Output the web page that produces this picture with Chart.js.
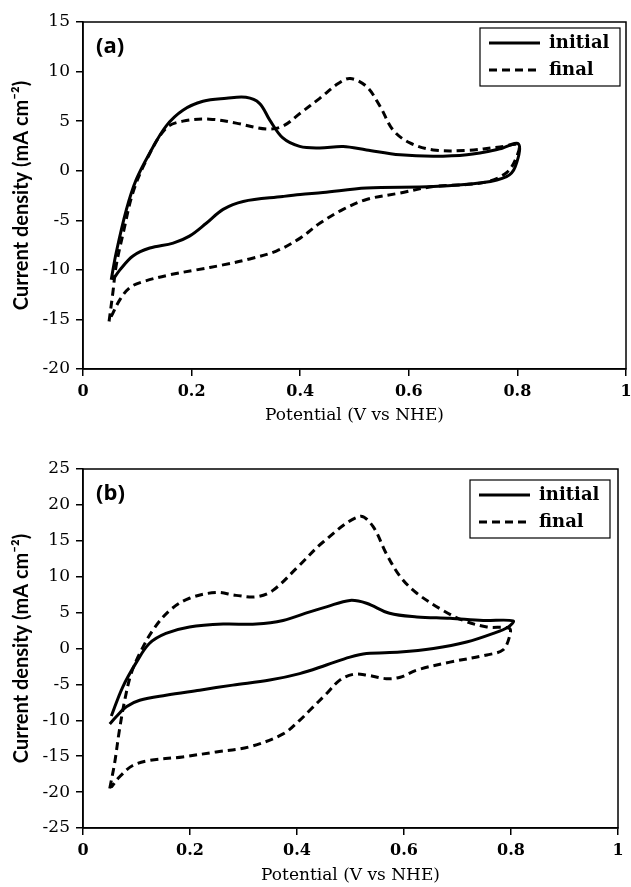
<!DOCTYPE html>
<html><head><meta charset="utf-8">
<script src="https://cdn.jsdelivr.net/npm/chart.js@4"></script>
<style>
body{margin:0;background:#fff;}
canvas{display:block;}
</style>
</head><body>
<canvas id="ca" width="631" height="443"></canvas>
<canvas id="cb" width="631" height="444"></canvas>
<script>
// ---- data ----
const seriesNames = ['initial', 'final'];
const panelLabels = ['(a)', '(b)'];
const xAxisTitle = 'Potential (V vs NHE)';
const yAxisTitle = 'Current density (mA cm\u207B\u00B2)';
const xTickLabels = ['0', '0.2', '0.4', '0.6', '0.8', '1'];

// Panel (a)
const aInitialV = [0.052,0.061,0.080,0.098,0.123,0.153,0.184,0.221,0.264,0.300,0.325,0.344,0.368,0.399,0.436,0.479,0.522,0.584,0.645,0.707,0.768,0.802,0.796,0.780,0.737,0.645,0.522,0.442,0.400,0.368,0.295,0.258,0.227,0.196,0.166,0.123,0.092,0.068,0.055];
const aInitialI = [-11.0,-8.3,-3.9,-0.9,1.8,4.5,6.1,7.0,7.3,7.4,6.8,5.1,3.3,2.45,2.3,2.45,2.1,1.6,1.45,1.6,2.2,2.7,0.4,-0.6,-1.2,-1.6,-1.75,-2.2,-2.4,-2.6,-3.1,-3.9,-5.3,-6.6,-7.3,-7.8,-8.6,-10.0,-11.0];
const aFinalV = [0.048,0.055,0.061,0.074,0.092,0.117,0.153,0.184,0.233,0.282,0.338,0.368,0.400,0.436,0.470,0.492,0.522,0.547,0.571,0.602,0.645,0.707,0.768,0.802,0.799,0.780,0.737,0.645,0.584,0.522,0.479,0.436,0.400,0.356,0.307,0.258,0.209,0.160,0.110,0.086,0.068,0.052,0.048];
const aFinalI = [-15.2,-12.3,-9.6,-6.3,-2.2,1.1,4.3,5.0,5.2,4.8,4.2,4.5,5.8,7.3,8.8,9.3,8.5,6.5,4.1,2.8,2.1,2.05,2.4,2.6,1.45,-0.2,-1.2,-1.6,-2.25,-2.9,-3.9,-5.3,-6.8,-8.1,-8.9,-9.5,-10.0,-10.5,-11.2,-11.8,-13.0,-14.7,-15.2];

// Panel (b)
const bInitialV = [0.053,0.074,0.100,0.124,0.155,0.199,0.262,0.324,0.374,0.424,0.455,0.499,0.530,0.573,0.624,0.686,0.748,0.804,0.795,0.767,0.717,0.655,0.593,0.530,0.499,0.455,0.405,0.349,0.280,0.218,0.155,0.106,0.081,0.062,0.050];
const bInitialI = [-9.4,-5.4,-1.9,0.7,2.1,3.0,3.4,3.4,3.9,5.1,5.8,6.7,6.3,4.9,4.4,4.2,3.9,3.85,3.0,2.1,0.9,0.0,-0.5,-0.7,-1.2,-2.3,-3.5,-4.4,-5.1,-5.8,-6.5,-7.2,-8.1,-9.5,-10.5];
const bFinalV = [0.050,0.059,0.068,0.078,0.090,0.106,0.131,0.162,0.199,0.249,0.286,0.324,0.355,0.402,0.450,0.517,0.542,0.567,0.593,0.624,0.673,0.711,0.755,0.797,0.797,0.785,0.755,0.686,0.624,0.593,0.567,0.530,0.505,0.480,0.455,0.424,0.405,0.374,0.311,0.249,0.186,0.124,0.093,0.068,0.053];
const bFinalI = [-19.5,-16.0,-11.4,-7.2,-3.5,-0.7,2.6,5.3,7.0,7.8,7.4,7.2,8.1,11.4,14.9,18.4,17.0,13.2,10.0,7.7,5.3,3.9,3.0,2.8,1.6,-0.2,-0.9,-1.9,-3.0,-4.0,-4.2,-3.7,-3.6,-4.4,-6.3,-8.6,-10.0,-11.9,-13.7,-14.4,-15.1,-15.6,-16.3,-17.9,-19.3];

const xTicks = {min: 0, max: 1, step: 0.2};
const aYTicks = {min: -20, max: 15, step: 5};
const bYTicks = {min: -25, max: 25, step: 5};

// ---- helpers ----
function pts(V, I) { return V.map((v, i) => ({x: v, y: I[i]})); }

const framePlugin = {
  id: 'frameLegend',
  afterDraw(chart, args, o) {
    const {ctx, chartArea: a} = chart;
    ctx.save();
    ctx.strokeStyle = '#000';
    ctx.lineWidth = 1.5;
    ctx.strokeRect(a.left, a.top, a.right - a.left, a.bottom - a.top);
    // panel label
    ctx.fillStyle = '#000';
    ctx.font = 'bold 22px "Open Sans"';
    ctx.textAlign = 'left';
    ctx.textBaseline = 'middle';
    ctx.fillText(o.panel, a.left + 13, a.top + o.panelDy);
    // legend box
    const bw = 140, bh = 58;
    const bx = a.right - o.legRight - bw, by = a.top + o.legTop;
    ctx.lineWidth = 1.2;
    ctx.strokeRect(bx, by, bw, bh);
    chart.data.datasets.forEach((ds, i) => {
      const y = by + 15 + i * 27;
      ctx.beginPath();
      ctx.setLineDash(ds.borderDash || []);
      ctx.lineWidth = ds.borderWidth;
      ctx.moveTo(bx + 9, y);
      ctx.lineTo(bx + 60, y);
      ctx.stroke();
      ctx.setLineDash([]);
      ctx.font = 'bold 18px "DejaVu Serif"';
      ctx.fillText(ds.label, bx + 69, y);
    });
    ctx.restore();
  }
};

function makeChart(id, initV, initI, finV, finI, yT, opts) {
  return new Chart(document.getElementById(id), {
    type: 'scatter',
    data: {
      datasets: [
        {label: seriesNames[0], data: pts(initV, initI), showLine: true, borderColor: '#000', borderWidth: 3, pointRadius: 0, tension: 0.35, fill: false},
        {label: seriesNames[1], data: pts(finV, finI), showLine: true, borderColor: '#000', borderWidth: 3, borderDash: [8, 5], pointRadius: 0, tension: 0.35, fill: false}
      ]
    },
    options: {
      responsive: false,
      animation: false,
      devicePixelRatio: 1,
      layout: {padding: opts.padding},
      plugins: {
        legend: {display: false},
        tooltip: {enabled: false},
        frameLegend: opts.frame
      },
      scales: {
        x: {
          type: 'linear', min: xTicks.min, max: xTicks.max,
          ticks: {stepSize: xTicks.step, color: '#000', padding: 6, maxRotation: 0,
                  font: {family: 'DejaVu Serif', weight: 'bold', size: 16},
                  callback: (v, i) => xTickLabels[i]},
          grid: {drawOnChartArea: false, drawTicks: true, tickLength: 7, color: '#000', lineWidth: 1.5},
          border: {display: true, color: '#000', width: 1.5},
          title: {display: true, text: xAxisTitle, color: '#000',
                  font: {family: 'DejaVu Serif', size: 17}, padding: {top: 0, bottom: opts.xTitlePad}},
          afterFit(s) { s.height = opts.xHeight; s.paddingLeft = 0; s.paddingRight = 0; }
        },
        y: {
          type: 'linear', min: yT.min, max: yT.max,
          ticks: {stepSize: yT.step, color: '#000', padding: 6,
                  font: {family: 'DejaVu Serif', size: 17}},
          grid: {drawOnChartArea: false, drawTicks: true, tickLength: 7, color: '#000', lineWidth: 1.5},
          border: {display: true, color: '#000', width: 1.5},
          title: {display: true, text: yAxisTitle, color: '#000',
                  font: {family: 'Lato', weight: 'bold', size: 20}, padding: {top: 10, bottom: 0}},
          afterFit(s) { s.width = 83; s.paddingTop = 0; s.paddingBottom = 0; }
        }
      }
    },
    plugins: [framePlugin]
  });
}

makeChart('ca', aInitialV, aInitialI, aFinalV, aFinalI, aYTicks, {
  padding: {top: 22, right: 5, bottom: 0, left: 0},
  xHeight: 74, xTitlePad: 17,
  frame: {panel: panelLabels[0], panelDy: 25, legRight: 6, legTop: 6}
});
makeChart('cb', bInitialV, bInitialI, bFinalV, bFinalI, bYTicks, {
  padding: {top: 26, right: 13, bottom: 0, left: 0},
  xHeight: 59, xTitlePad: 1.5,
  frame: {panel: panelLabels[1], panelDy: 25, legRight: 8, legTop: 11}
});
</script>
</body></html>
